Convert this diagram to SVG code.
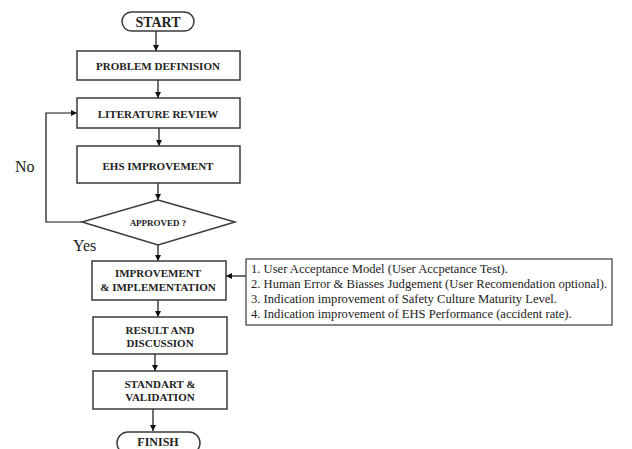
<svg xmlns="http://www.w3.org/2000/svg" width="632" height="449" viewBox="0 0 632 449">
<defs>
<marker id="ah" markerWidth="6" markerHeight="6" refX="6" refY="3" orient="auto" markerUnits="userSpaceOnUse">
<path d="M0,0 L6,3 L0,6 Z" fill="#111"/>
</marker>
<style>
.box{fill:#fff;stroke:#3a3a3a;stroke-width:1.5}
.t{font-family:"Liberation Serif","Times New Roman",serif;font-weight:bold;font-size:11px;fill:#222;text-anchor:middle}
.lbl{font-family:"Liberation Serif","Times New Roman",serif;font-size:16px;fill:#222}
.li{font-family:"Liberation Serif","Times New Roman",serif;font-size:12.6px;fill:#222}
.c{fill:none;stroke:#111;stroke-width:1.2}
</style>
</defs>
<rect width="632" height="449" fill="#fff"/>
<g id="connectors">
<line class="c" x1="156" y1="31" x2="156" y2="51" marker-end="url(#ah)"/>
<line class="c" x1="158" y1="80" x2="158" y2="98" marker-end="url(#ah)"/>
<line class="c" x1="159" y1="128" x2="159" y2="146" marker-end="url(#ah)"/>
<line class="c" x1="158" y1="183" x2="158" y2="200" marker-end="url(#ah)"/>
<polyline class="c" points="82,222 46,222 46,113 77,113" marker-end="url(#ah)"/>
<line class="c" x1="158" y1="245" x2="158" y2="261" marker-end="url(#ah)"/>
<line class="c" x1="158" y1="300" x2="158" y2="317" marker-end="url(#ah)"/>
<line class="c" x1="155" y1="354" x2="155" y2="371" marker-end="url(#ah)"/>
<line class="c" x1="153" y1="409" x2="153" y2="431" marker-end="url(#ah)"/>
<line class="c" x1="246" y1="276" x2="226" y2="276" marker-end="url(#ah)"/>
</g>
<g id="start">
<rect class="box" x="122" y="12" width="72" height="19" rx="9.5"/>
<text class="t" x="158" y="27" style="font-size:14px">START</text>
</g>
<g id="problem">
<rect class="box" x="77" y="51" width="163" height="29"/>
<text class="t" x="158" y="70">PROBLEM DEFINISION</text>
</g>
<g id="literature">
<rect class="box" x="77" y="98" width="163" height="30"/>
<text class="t" x="158" y="118">LITERATURE REVIEW</text>
</g>
<g id="ehs">
<rect class="box" x="77" y="146" width="163" height="37"/>
<text class="t" x="158" y="170">EHS IMPROVEMENT</text>
</g>
<g id="approved">
<polygon class="box" points="158,200 235,222 158,245 82,222"/>
<text class="t" x="158" y="226" style="font-size:9px">APPROVED ?</text>
</g>
<g id="labels">
<text class="lbl" x="15" y="172">No</text>
<text class="lbl" x="73" y="251">Yes</text>
</g>
<g id="implementation">
<rect class="box" x="92" y="261" width="134" height="39"/>
<text class="t" x="158" y="277">IMPROVEMENT</text>
<text class="t" x="158" y="291">&amp; IMPLEMENTATION</text>
</g>
<g id="notes">
<rect class="box" x="246" y="259" width="366" height="66" style="stroke-width:1.2"/>
<text class="li" x="251" y="273">1. User Acceptance Model (User Accpetance Test).</text>
<text class="li" x="251" y="288">2. Human Error &amp; Biasses Judgement (User Recomendation optional).</text>
<text class="li" x="251" y="303">3. Indication improvement of Safety Culture Maturity Level.</text>
<text class="li" x="251" y="318">4. Indication improvement of EHS Performance (accident rate).</text>
</g>
<g id="result">
<rect class="box" x="93" y="317" width="134" height="37"/>
<text class="t" x="160" y="334">RESULT AND</text>
<text class="t" x="160" y="347">DISCUSSION</text>
</g>
<g id="standart">
<rect class="box" x="93" y="371" width="134" height="38"/>
<text class="t" x="160" y="388">STANDART &amp;</text>
<text class="t" x="160" y="401">VALIDATION</text>
</g>
<g id="finish">
<rect class="box" x="117" y="432" width="83" height="22" rx="11"/>
<text class="t" x="158" y="446" style="font-size:12px">FINISH</text>
</g>
</svg>
